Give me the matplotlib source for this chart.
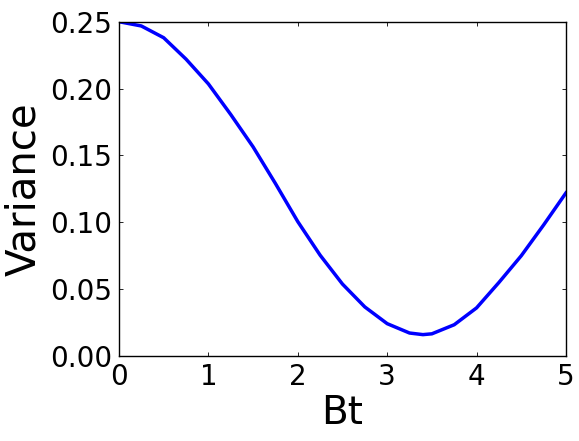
import matplotlib
matplotlib.use('Agg')
import matplotlib.pyplot as plt
from matplotlib.ticker import FormatStrFormatter

# Values
bt = [0.00, 0.25, 0.50, 0.75, 1.00, 1.25, 1.50, 1.75, 2.00, 2.25, 2.50,
      2.75, 3.00, 3.25, 3.40, 3.50, 3.75, 4.00, 4.25, 4.50, 4.75, 5.00]
variance = [0.2500, 0.2468, 0.2380, 0.2220, 0.2035, 0.1806, 0.1564, 0.1290,
            0.1005, 0.0754, 0.0538, 0.0367, 0.0242, 0.0172, 0.0160, 0.0166,
            0.0234, 0.0360, 0.0550, 0.0750, 0.0980, 0.1220]

x_ticks = [0, 1, 2, 3, 4, 5]
y_ticks = [0.00, 0.05, 0.10, 0.15, 0.20, 0.25]

fig = plt.figure(figsize=(5.79, 4.41), dpi=100, facecolor='white')
ax = fig.add_axes([0.2055, 0.1927, 0.7720, 0.7581])

ax.plot(bt, variance, color='blue', linewidth=2.5, solid_joinstyle='round')

ax.set_xlim(0, 5)
ax.set_ylim(0, 0.25)
ax.set_xticks(x_ticks)
ax.set_yticks(y_ticks)
ax.yaxis.set_major_formatter(FormatStrFormatter('%.2f'))

ax.tick_params(direction='in', length=3, width=0.6, top=True, right=True,
               labelsize=20, pad=5)
for spine in ax.spines.values():
    spine.set_linewidth(1.0)

ax.set_xlabel('Bt', fontsize=28, labelpad=2)
ax.set_ylabel('Variance', fontsize=29, labelpad=4)

fig.savefig('out.png', dpi=100, facecolor='white')
